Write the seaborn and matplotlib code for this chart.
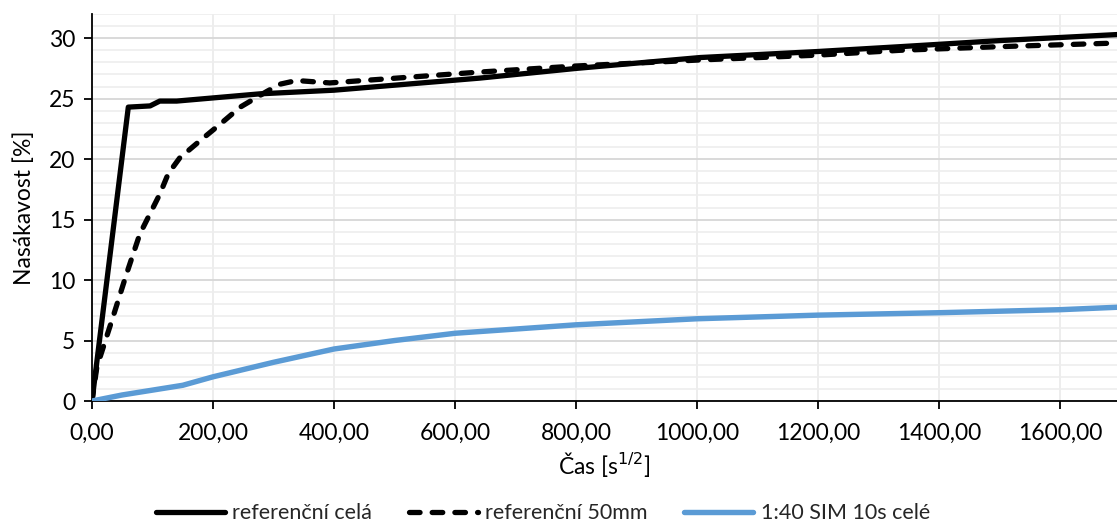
import numpy as np
import pandas as pd
import matplotlib
matplotlib.use("Agg")
import matplotlib.pyplot as plt
from matplotlib.ticker import MultipleLocator, FuncFormatter
import seaborn as sns

# referenční celá
ref_cela_x = [0, 60, 96, 112, 140, 278, 400, 641, 800, 1005, 1200, 1336, 1500, 1694]
ref_cela_y = [0, 24.3, 24.4, 24.8, 24.8, 25.4, 25.7, 26.7, 27.5, 28.4, 28.9, 29.3, 29.8, 30.3]

# referenční 50mm
ref_50_x = [0, 8, 35, 57, 79, 112, 126, 145, 178, 212, 245, 272, 289, 311, 338, 393, 476,
            641, 800, 1005, 1200, 1336, 1500, 1694]
ref_50_y = [0, 2.8, 7.0, 10.5, 13.8, 17.1, 18.8, 20.1, 21.5, 22.9, 24.3, 25.1, 25.6, 26.2,
            26.5, 26.3, 26.6, 27.2, 27.7, 28.2, 28.6, 29.0, 29.3, 29.6]

# 1:40 SIM 10s celé
sim_x = [0, 50, 100, 150, 200, 300, 400, 500, 600, 800, 1000, 1200, 1400, 1600, 1694]
sim_y = [0, 0.5, 0.9, 1.3, 2.0, 3.2, 4.3, 5.0, 5.6, 6.3, 6.8, 7.1, 7.3, 7.55, 7.75]

labels = ["referenční celá", "referenční 50mm", "1:40 SIM 10s celé"]

sns.set_theme(style="white")
plt.rcParams['font.family'] = ['Lato', 'DejaVu Sans']

fig = plt.figure(figsize=(11.17, 5.23), dpi=100)
ax = fig.add_axes([92 / 1117, 122 / 523, 1025 / 1117, 387 / 523])

df1 = pd.DataFrame({"x": ref_cela_x, "y": ref_cela_y})
df2 = pd.DataFrame({"x": ref_50_x, "y": ref_50_y})
df3 = pd.DataFrame({"x": sim_x, "y": sim_y})

sns.lineplot(data=df1, x="x", y="y", color="black", lw=3.8, label=labels[0],
             ax=ax, zorder=3, solid_capstyle="round", solid_joinstyle="round")
sns.lineplot(data=df2, x="x", y="y", color="black", lw=3.8, label=labels[1],
             ax=ax, zorder=3, dashes=False, linestyle=(0, (2.0, 2.3)),
             dash_capstyle="round", dash_joinstyle="round")
sns.lineplot(data=df3, x="x", y="y", color="#5B9BD5", lw=3.9, label=labels[2],
             ax=ax, zorder=3, solid_capstyle="round", solid_joinstyle="round")

ax.set_xlim(0, 1694)
ax.set_ylim(0, 32)
ax.xaxis.set_major_locator(MultipleLocator(200))
ax.yaxis.set_major_locator(MultipleLocator(5))
ax.yaxis.set_minor_locator(MultipleLocator(1))
ax.xaxis.set_major_formatter(FuncFormatter(lambda v, p: f"{v:.2f}".replace(".", ",")))

ax.grid(which="minor", axis="y", color="#ededed", lw=1.2, zorder=0)
ax.grid(which="major", axis="y", color="#d9d9d9", lw=1.4, zorder=0)
ax.grid(which="major", axis="x", color="#ededed", lw=1.4, zorder=0)
ax.set_axisbelow(True)

for s in ["top", "right"]:
    ax.spines[s].set_visible(False)
for s in ["left", "bottom"]:
    ax.spines[s].set_color("black")
    ax.spines[s].set_linewidth(1.3)

ax.tick_params(axis="both", which="major", direction="out", length=6, width=1.3,
               color="black", labelsize=16.5, colors="black", left=True, bottom=True)
ax.tick_params(axis="x", pad=10)
ax.tick_params(axis="y", pad=6)
ax.tick_params(which="minor", left=False)

ax.set_xlabel("Čas [s$^{1/2}$]", fontsize=16.5, color="black", labelpad=4)
ax.set_ylabel("Nasákavost [%]", fontsize=16.5, color="black", labelpad=10)

ax.legend(loc="center", bbox_to_anchor=(0.44, -0.29), ncol=3, frameon=False,
          fontsize=15.5, handlelength=3.2, columnspacing=1.7, handletextpad=0.35)

fig.savefig("out.png", dpi=100)
